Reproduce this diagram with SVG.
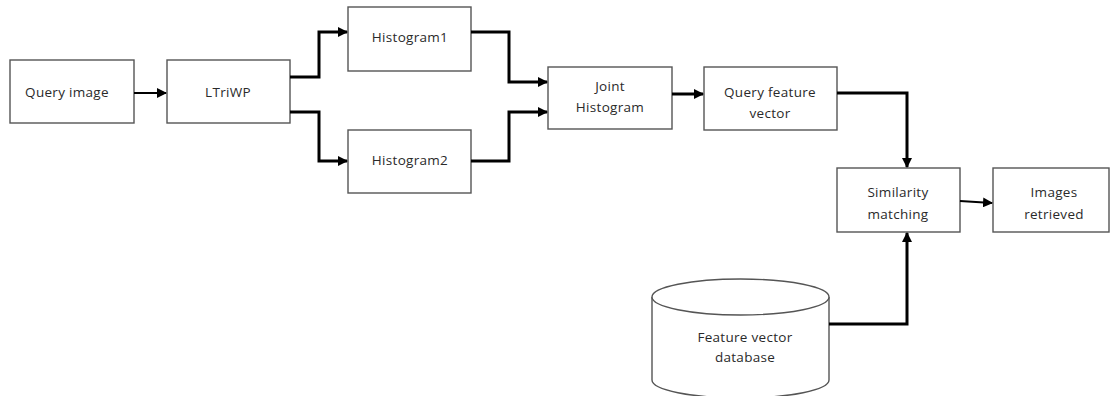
<svg xmlns="http://www.w3.org/2000/svg" width="1110" height="396" viewBox="0 0 1110 396">
<defs>
<marker id="ah" viewBox="0 0 10 10" refX="9" refY="5" markerWidth="3.4" markerHeight="3.4" markerUnits="strokeWidth" orient="auto">
<path d="M0,0 L10,5 L0,10 z" fill="#000"/>
</marker>
<marker id="ah2" viewBox="0 0 10 10" refX="9" refY="5" markerWidth="5" markerHeight="5" markerUnits="strokeWidth" orient="auto">
<path d="M0,0 L10,5 L0,10 z" fill="#000"/>
</marker>
<style>
.box{fill:#fff;stroke:#555;stroke-width:1.4}
.t{font-family:"Open Sans","Liberation Sans",sans-serif;font-size:13.5px;letter-spacing:0.3px;fill:#2a2a2a;text-anchor:middle}
.c{fill:none;stroke:#000;stroke-width:3;marker-end:url(#ah)}
.c2{fill:none;stroke:#000;stroke-width:2;marker-end:url(#ah2)}
</style>
</defs>
<rect width="1110" height="396" fill="#fff"/>
<g id="query-image"><rect class="box" x="10" y="60" width="124" height="63"/><text class="t" x="67" y="97">Query image</text></g>
<g id="ltriwp"><rect class="box" x="167" y="60" width="123" height="63"/><text class="t" x="228" y="97">LTriWP</text></g>
<g id="histogram1"><rect class="box" x="348" y="7" width="123" height="64"/><text class="t" x="410" y="42">Histogram1</text></g>
<g id="histogram2"><rect class="box" x="348" y="130" width="123" height="63"/><text class="t" x="410" y="165">Histogram2</text></g>
<g id="joint-histogram"><rect class="box" x="548" y="67" width="124" height="62"/><text class="t" x="610" y="91">Joint</text><text class="t" x="610" y="112">Histogram</text></g>
<g id="query-feature-vector"><rect class="box" x="704" y="67" width="133" height="63"/><text class="t" x="770" y="97">Query feature</text><text class="t" x="770" y="118">vector</text></g>
<g id="similarity-matching"><rect class="box" x="837" y="168" width="123" height="64"/><text class="t" x="898" y="197">Similarity</text><text class="t" x="898" y="219">matching</text></g>
<g id="images-retrieved"><rect class="box" x="993" y="168" width="116" height="64"/><text class="t" x="1054" y="197">Images</text><text class="t" x="1054" y="219">retrieved</text></g>
<g id="feature-vector-database">
<path class="box" d="M652,297 L652,380 A88.5,18 0 0 0 829,380 L829,297"/>
<ellipse class="box" cx="740.5" cy="297" rx="88.5" ry="18"/>
<text class="t" x="745" y="342">Feature vector</text><text class="t" x="745" y="362">database</text>
</g>
<g id="connectors">
<path class="c2" d="M134,93 L166,93"/>
<path class="c" d="M290,77 L319,77 L319,32 L347,32"/>
<path class="c" d="M290,112 L319,112 L319,161 L347,161"/>
<path class="c" d="M471,32 L509,32 L509,82 L547,82"/>
<path class="c" d="M471,161 L509,161 L509,112 L547,112"/>
<path class="c" d="M672,94 L703,94"/>
<path class="c" d="M837,93 L907,93 L907,167"/>
<path class="c2" d="M960,201 L992,203"/>
<path class="c" d="M829,324 L907,324 L907,233"/>
</g>
</svg>
